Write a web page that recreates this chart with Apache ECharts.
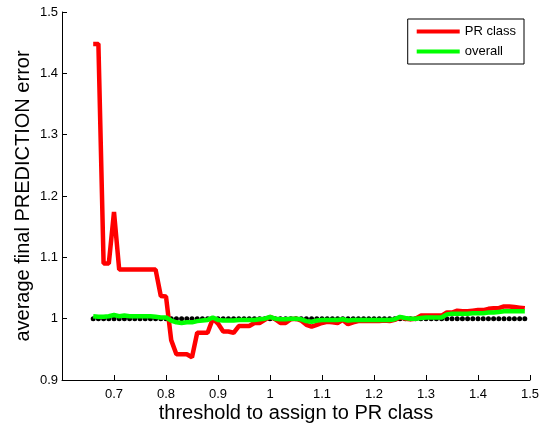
<!DOCTYPE html>
<html>
<head>
<meta charset="utf-8">
<script src="https://cdn.jsdelivr.net/npm/echarts@6/dist/echarts.min.js"></script>
<style>
  html, body { margin: 0; padding: 0; background: #fff; }
  #main { width: 541px; height: 428px; }
</style>
</head>
<body>
<div id="main"></div>
<script>
// threshold values (x)
var thresholds = [
  0.66, 0.67, 0.68, 0.69, 0.70, 0.71, 0.72, 0.73, 0.74, 0.75, 0.76, 0.77, 0.78, 0.79, 0.80,
  0.81, 0.82, 0.83, 0.84, 0.85, 0.86, 0.87, 0.88, 0.89, 0.90, 0.91, 0.92, 0.93, 0.94, 0.95,
  0.96, 0.97, 0.98, 0.99, 1.00, 1.01, 1.02, 1.03, 1.04, 1.05, 1.06, 1.07, 1.08, 1.09, 1.10,
  1.11, 1.12, 1.13, 1.14, 1.15, 1.16, 1.17, 1.18, 1.19, 1.20, 1.21, 1.22, 1.23, 1.24, 1.25,
  1.26, 1.27, 1.28, 1.29, 1.30, 1.31, 1.32, 1.33, 1.34, 1.35, 1.36, 1.37, 1.38, 1.39, 1.40,
  1.41, 1.42, 1.43, 1.44, 1.45, 1.46, 1.47, 1.48, 1.49
];

// PR class error
var prClass = [
  1.448, 1.448, 1.090, 1.090, 1.174, 1.080, 1.080, 1.080, 1.080, 1.080, 1.080, 1.080, 1.080, 1.037, 1.036,
  0.965, 0.942, 0.942, 0.942, 0.937, 0.977, 0.977, 0.977, 1.000, 0.992, 0.979, 0.979, 0.977, 0.988, 0.988,
  0.988, 0.993, 0.993, 0.998, 1.003, 0.999, 0.993, 0.993, 0.999, 1.000, 0.997, 0.990, 0.987, 0.990, 0.993,
  0.995, 0.994, 0.993, 0.998, 0.991, 0.994, 0.996, 0.996, 0.996, 0.996, 0.996, 0.997, 0.996, 0.998, 1.002,
  1.000, 0.999, 1.000, 1.005, 1.005, 1.005, 1.005, 1.005, 1.010, 1.010, 1.013, 1.012, 1.012, 1.013, 1.014,
  1.014, 1.016, 1.017, 1.017, 1.020, 1.020, 1.019, 1.018, 1.017
];

// overall error
var overall = [
  1.004, 1.003, 1.003, 1.004, 1.006, 1.004, 1.005, 1.004, 1.004, 1.004, 1.004, 1.004, 1.003, 1.002, 1.002,
  0.997, 0.994, 0.993, 0.994, 0.994, 0.996, 0.997, 0.998, 1.002, 0.998, 0.997, 0.997, 0.997, 0.998, 0.998,
  0.998, 0.998, 0.999, 1.000, 1.003, 1.000, 0.999, 0.999, 1.000, 1.000, 0.999, 0.996, 0.995, 0.997, 0.998,
  0.998, 0.998, 0.998, 0.999, 0.997, 0.998, 0.998, 0.998, 0.998, 0.998, 0.998, 0.998, 0.998, 0.999, 1.003,
  1.001, 1.000, 1.000, 1.001, 1.002, 1.002, 1.002, 1.002, 1.007, 1.008, 1.008, 1.008, 1.008, 1.009, 1.009,
  1.009, 1.010, 1.010, 1.011, 1.012, 1.012, 1.012, 1.012, 1.012
];

// reference level (dotted black)
var baseline = [
  1, 1, 1, 1, 1, 1, 1, 1, 1, 1, 1, 1, 1, 1, 1, 1, 1, 1, 1, 1, 1, 1, 1, 1, 1, 1, 1, 1,
  1, 1, 1, 1, 1, 1, 1, 1, 1, 1, 1, 1, 1, 1, 1, 1, 1, 1, 1, 1, 1, 1, 1, 1, 1, 1, 1, 1,
  1, 1, 1, 1, 1, 1, 1, 1, 1, 1, 1, 1, 1, 1, 1, 1, 1, 1, 1, 1, 1, 1, 1, 1, 1, 1, 1, 1
];

function pairs(ys) {
  return thresholds.map(function (x, i) { return [x, ys[i]]; });
}

var font = "Liberation Sans, Arial, Helvetica, sans-serif";
var chart = echarts.init(document.getElementById("main"));

var option = {
  animation: false,
  backgroundColor: "#fff",
  grid: { left: 62, right: 11, top: 12, bottom: 48, outerBoundsMode: "none" },
  legend: {
    right: 17,
    top: 19,
    orient: "vertical",
    data: ["PR class", "overall"],
    icon: "rect",
    itemWidth: 43,
    itemHeight: 4,
    itemGap: 7,
    padding: [6, 8, 6, 9],
    borderColor: "#000",
    borderWidth: 1,
    backgroundColor: "#fff",
    textStyle: { fontFamily: font, fontSize: 13, color: "#000" }
  },
  xAxis: {
    type: "value",
    min: 0.6,
    max: 1.5,
    interval: 0.1,
    name: "threshold to assign to PR class",
    nameLocation: "middle",
    nameGap: 23,
    nameMoveOverlap: false,
    nameTextStyle: { fontFamily: font, fontSize: 20, color: "#000" },
    axisLine: { lineStyle: { color: "#000" } },
    axisTick: { inside: true, length: 5, lineStyle: { color: "#000" } },
    axisLabel: {
      fontFamily: font, fontSize: 13, color: "#000", margin: 8,
      formatter: function (v) { return v < 0.65 ? "" : +v.toFixed(1) + ""; }
    },
    splitLine: { show: false }
  },
  yAxis: {
    type: "value",
    min: 0.9,
    max: 1.5,
    interval: 0.1,
    name: "average final PREDICTION error",
    nameLocation: "middle",
    nameGap: 29,
    nameMoveOverlap: false,
    nameTextStyle: { fontFamily: font, fontSize: 20, color: "#000" },
    axisLine: { show: true, lineStyle: { color: "#000" } },
    axisTick: { show: true, inside: true, length: 5, lineStyle: { color: "#000" } },
    axisLabel: {
      fontFamily: font, fontSize: 13, color: "#000", margin: 4,
      formatter: function (v) { return +v.toFixed(1) + ""; }
    },
    splitLine: { show: false }
  },
  series: [
    {
      name: "PR class",
      type: "line",
      data: pairs(prClass),
      showSymbol: false,
      lineStyle: { color: "#ff0000", width: 4.5 },
      itemStyle: { color: "#ff0000" }
    },
    {
      name: "overall",
      type: "line",
      data: pairs(overall),
      showSymbol: false,
      lineStyle: { color: "#00ff00", width: 4.5 },
      itemStyle: { color: "#00ff00" }
    },
    {
      name: "baseline",
      type: "scatter",
      data: pairs(baseline),
      symbol: "circle",
      symbolSize: 5,
      itemStyle: { color: "#000", opacity: 1 }
    }
  ]
};

chart.setOption(option);
</script>
</body>
</html>
